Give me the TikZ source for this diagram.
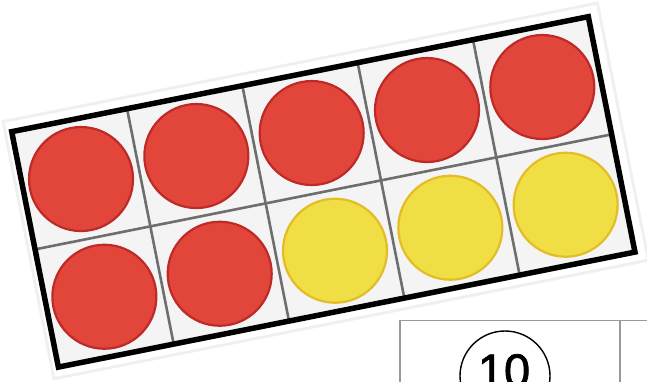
\documentclass[tikz,border=0pt]{standalone}
\usepackage{fontspec}
\setmainfont{Liberation Sans}
\newfontfamily\numfont[FakeBold=1.6]{Liberation Sans}
\definecolor{redfill}{HTML}{E2453A}
\definecolor{redline}{HTML}{BE2A28}
\definecolor{yelfill}{HTML}{F0DE45}
\definecolor{yelline}{HTML}{E4BC26}
\definecolor{cellbg}{HTML}{F4F4F5}
\definecolor{gridgray}{HTML}{6E6E6E}
\begin{document}
\begin{tikzpicture}[x=1pt,y=-1pt,
  redc/.style={circle,fill=redfill,draw=redline,line width=2.2pt,minimum size=104pt,inner sep=0pt},
  yelc/.style={circle,fill=yelfill,draw=yelline,line width=2.2pt,minimum size=104pt,inner sep=0pt},
  gridline/.style={draw=gridgray,line width=2.6pt},
  outerline/.style={draw=black,line width=5.5pt,line join=miter},
  boxline/.style={draw=black!40,line width=1.4pt}]
\useasboundingbox[fill=white] (0,0) rectangle (647,382);
\clip (0,0) rectangle (647,382);
% ten frame, tilted
\begin{scope}[shift={(11.7pt,-131.7pt)},x={(0.9806pt,0.1956pt)},y={(0.1945pt,-0.9808pt)}]
  \coordinate (p1) at (-8,-13);
  \coordinate (p2) at (601,-13);
  \coordinate (p3) at (601,252);
  \coordinate (p4) at (-8,252);
  \fill[black!6] (p1) -- (p2) -- (p3) -- (p4) -- cycle;
  \fill[white] (-5,-10) -- (598,-10) -- (598,249) -- (-5,249) -- cycle;
  \coordinate (tl) at (0,0);
  \coordinate (tr) at (588,0);
  \coordinate (br) at (588,240);
  \coordinate (bl) at (0,240);
  \fill[cellbg] (tl) -- (tr) -- (br) -- (bl) -- cycle;
  \foreach \i in {1,...,4}{
    \coordinate (gt\i) at (117.6*\i,0);
    \coordinate (gb\i) at (117.6*\i,240);
    \draw[gridline] (gt\i) -- (gb\i);
  }
  \coordinate (ml) at (0,120);
  \coordinate (mr) at (588,120);
  \draw[gridline] (ml) -- (mr);
  \draw[outerline] (tl) -- (tr) -- (br) -- (bl) -- cycle;
  % counters
  \foreach \i in {0,...,4}{
    \node[redc] (t\i) at (117.6*\i+58.8,60) {};
  }
  \node[redc] (b0) at (58.8,180) {};
  \node[redc] (b1) at (176.4,180) {};
  \node[yelc] (b2) at (294,180) {};
  \node[yelc] (b3) at (411.6,180) {};
  \node[yelc] (b4) at (529.2,180) {};
\end{scope}
% bottom right box
\coordinate (bxl) at (400,400);
\coordinate (bxtl) at (400,320.5);
\coordinate (bxtr) at (660,320.5);
\coordinate (bxv1) at (620,320.5);
\coordinate (bxv2) at (620,400);
\draw[boxline] (bxl) -- (bxtl) -- (bxtr);
\draw[boxline] (bxv1) -- (bxv2);
\node[circle,draw=black,line width=1.4pt,minimum size=90pt,inner sep=0pt] (ring) at (505,376) {};
\node[anchor=base,inner sep=0pt,font=\numfont\fontsize{47}{47}\selectfont] (num) at (504,387) {10};
\end{tikzpicture}
\end{document}
